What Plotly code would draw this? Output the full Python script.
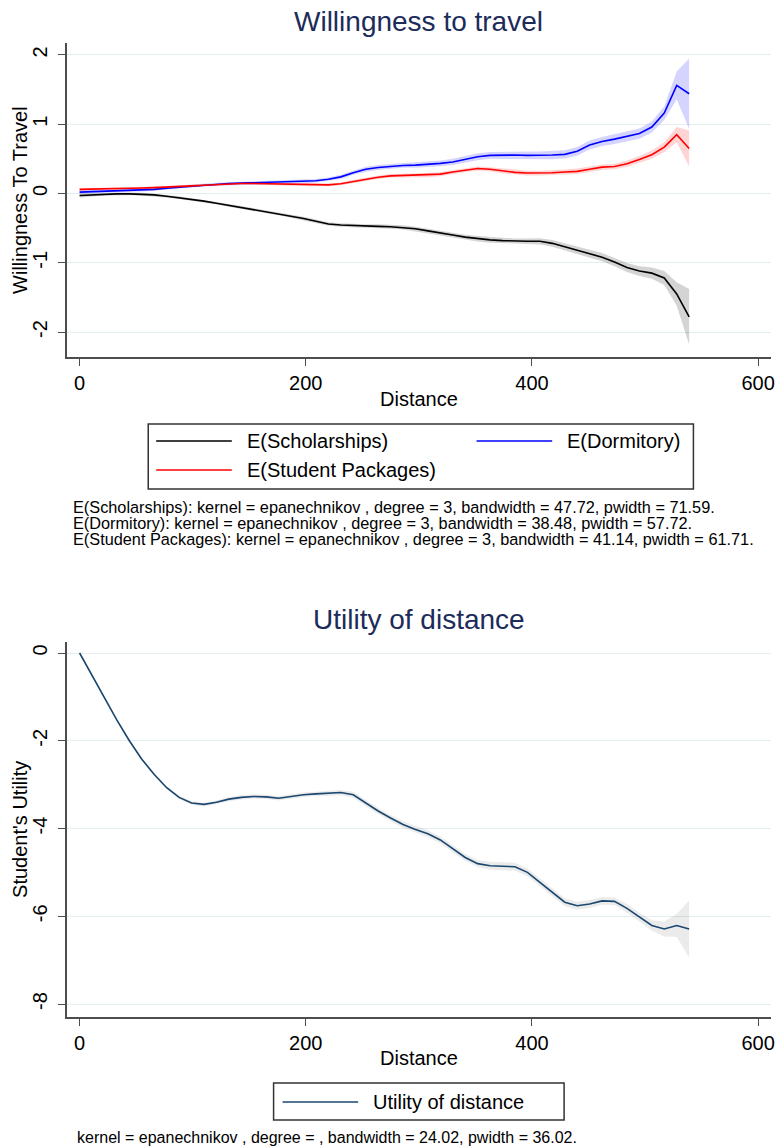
import plotly.graph_objects as go

W, H = 780, 1148
FONT = "Liberation Sans, Arial, Helvetica, sans-serif"

# Local-polynomial smooths evaluated on a common distance grid
distance = [0, 11, 22, 33, 44, 55, 66, 77, 88, 99,
            110, 121, 132, 143, 154, 165, 176, 187, 198, 209,
            220, 231, 242, 253, 264, 275, 286, 297, 308, 319,
            330, 341, 352, 363, 374, 385, 396, 407, 418, 429,
            440, 451, 462, 473, 484, 495, 506, 517, 528, 539]

scholarships = [-0.03, -0.02, -0.01, -0.005, -0.005, -0.01, -0.02, -0.04, -0.06, -0.085,
                -0.11, -0.14, -0.17, -0.20, -0.23, -0.26, -0.29, -0.32, -0.36, -0.40,
                -0.44, -0.455, -0.465, -0.47, -0.475, -0.48, -0.49, -0.51, -0.54, -0.565,
                -0.60, -0.63, -0.655, -0.67, -0.68, -0.69, -0.69, -0.69, -0.72, -0.77,
                -0.82, -0.87, -0.92, -0.99, -1.07, -1.12, -1.15, -1.22, -1.45, -1.78]
scholarships_ci = [0.03, 0.025, 0.02, 0.02, 0.02, 0.02, 0.02, 0.02, 0.02, 0.02,
                   0.02, 0.02, 0.02, 0.02, 0.02, 0.025, 0.025, 0.025, 0.025, 0.025,
                   0.025, 0.025, 0.025, 0.025, 0.03, 0.03, 0.03, 0.03, 0.03, 0.035,
                   0.035, 0.035, 0.04, 0.04, 0.04, 0.04, 0.04, 0.045, 0.05, 0.05,
                   0.055, 0.055, 0.06, 0.06, 0.065, 0.07, 0.08, 0.1, 0.17, 0.40]

dormitory = [0.02, 0.025, 0.03, 0.035, 0.04, 0.05, 0.06, 0.075, 0.09, 0.11,
             0.125, 0.135, 0.145, 0.15, 0.155, 0.16, 0.16, 0.165, 0.17, 0.185,
             0.205, 0.24, 0.30, 0.35, 0.375, 0.395, 0.405, 0.41, 0.42, 0.435,
             0.455, 0.49, 0.53, 0.55, 0.555, 0.555, 0.55, 0.55, 0.555, 0.565,
             0.61, 0.70, 0.75, 0.785, 0.82, 0.865, 0.96, 1.16, 1.56, 1.44]
dormitory_ci = [0.025, 0.02, 0.02, 0.02, 0.02, 0.02, 0.02, 0.02, 0.02, 0.02,
                0.02, 0.02, 0.02, 0.02, 0.02, 0.02, 0.025, 0.025, 0.025, 0.025,
                0.025, 0.03, 0.03, 0.035, 0.035, 0.035, 0.035, 0.04, 0.04, 0.04,
                0.045, 0.045, 0.05, 0.05, 0.05, 0.05, 0.055, 0.055, 0.06, 0.06,
                0.06, 0.065, 0.065, 0.07, 0.07, 0.075, 0.08, 0.1, 0.2, 0.51]

packages = [0.06, 0.062, 0.065, 0.07, 0.075, 0.08, 0.085, 0.09, 0.10, 0.11,
            0.12, 0.13, 0.14, 0.145, 0.145, 0.14, 0.135, 0.13, 0.125, 0.125,
            0.125, 0.14, 0.175, 0.21, 0.235, 0.255, 0.26, 0.26, 0.265, 0.28,
            0.31, 0.34, 0.36, 0.35, 0.325, 0.305, 0.295, 0.295, 0.30, 0.31,
            0.32, 0.35, 0.38, 0.39, 0.43, 0.49, 0.56, 0.67, 0.85, 0.65]
packages_ci = [0.02, 0.018, 0.015, 0.015, 0.015, 0.015, 0.015, 0.015, 0.015, 0.015,
               0.015, 0.015, 0.015, 0.015, 0.015, 0.015, 0.02, 0.02, 0.02, 0.02,
               0.02, 0.02, 0.025, 0.025, 0.025, 0.025, 0.025, 0.025, 0.03, 0.03,
               0.03, 0.03, 0.03, 0.03, 0.035, 0.035, 0.035, 0.035, 0.035, 0.035,
               0.04, 0.04, 0.04, 0.04, 0.045, 0.05, 0.06, 0.07, 0.11, 0.26]

utility = [0.0, -0.52, -1.03, -1.53, -2.00, -2.42, -2.77, -3.07, -3.29, -3.42,
           -3.45, -3.40, -3.33, -3.29, -3.27, -3.28, -3.31, -3.27, -3.23, -3.21,
           -3.20, -3.18, -3.23, -3.42, -3.60, -3.76, -3.91, -4.02, -4.12, -4.26,
           -4.46, -4.66, -4.80, -4.85, -4.86, -4.87, -5.00, -5.22, -5.45, -5.68,
           -5.76, -5.72, -5.65, -5.66, -5.82, -6.02, -6.21, -6.29, -6.21, -6.29]
utility_ci = [0.01, 0.02, 0.03, 0.03, 0.03, 0.03, 0.03, 0.03, 0.04, 0.04,
              0.04, 0.04, 0.05, 0.05, 0.05, 0.05, 0.05, 0.05, 0.05, 0.05,
              0.06, 0.06, 0.07, 0.07, 0.07, 0.07, 0.08, 0.08, 0.08, 0.08,
              0.08, 0.08, 0.08, 0.09, 0.09, 0.09, 0.09, 0.09, 0.09, 0.09,
              0.09, 0.09, 0.09, 0.09, 0.1, 0.1, 0.12, 0.17, 0.26, 0.65]

x_ticks = [0, 200, 400, 600]
x_tick_labels = ["0", "200", "400", "600"]
top_y_ticks = [-2, -1, 0, 1, 2]
top_y_labels = ["-2", "-1", "0", "1", "2"]
bottom_y_ticks = [-8, -6, -4, -2, 0]
bottom_y_labels = ["-8", "-6", "-4", "-2", "0"]

top_series = [
    ("E(Scholarships)", scholarships, scholarships_ci, "#000000", "rgba(0,0,0,0.17)"),
    ("E(Dormitory)", dormitory, dormitory_ci, "#0000ff", "rgba(0,0,255,0.17)"),
    ("E(Student Packages)", packages, packages_ci, "#ff0000", "rgba(255,0,0,0.17)"),
]
util_color = "#1a476f"
util_band = "rgba(0,0,0,0.08)"

top_notes = [
    "E(Scholarships): kernel = epanechnikov , degree = 3, bandwidth = 47.72, pwidth = 71.59.",
    "E(Dormitory): kernel = epanechnikov , degree = 3, bandwidth = 38.48, pwidth = 57.72.",
    "E(Student Packages): kernel = epanechnikov , degree = 3, bandwidth = 41.14, pwidth = 61.71.",
]
bottom_note = "kernel = epanechnikov , degree = , bandwidth = 24.02, pwidth = 36.02."


def px(x):
    return x / W


def py(y):
    return 1 - y / H


def band(xs, ys, half):
    lo = [v - h for v, h in zip(ys, half)]
    hi = [v + h for v, h in zip(ys, half)]
    return xs + xs[::-1], hi + lo[::-1]


fig = go.Figure()

# confidence bands first, then the fitted lines on top
for name, ys, half, col, fillcol in top_series:
    bx, by = band(distance, ys, half)
    fig.add_trace(go.Scatter(x=bx, y=by, fill="toself", fillcolor=fillcol,
                             line=dict(width=0), mode="lines", hoverinfo="skip",
                             xaxis="x", yaxis="y", showlegend=False))
for name, ys, half, col, fillcol in top_series:
    fig.add_trace(go.Scatter(x=distance, y=ys, mode="lines", name=name,
                             line=dict(color=col, width=1.6),
                             xaxis="x", yaxis="y", showlegend=False))

bx, by = band(distance, utility, utility_ci)
fig.add_trace(go.Scatter(x=bx, y=by, fill="toself", fillcolor=util_band,
                         line=dict(width=0), mode="lines", hoverinfo="skip",
                         xaxis="x2", yaxis="y2", showlegend=False))
fig.add_trace(go.Scatter(x=distance, y=utility, mode="lines", name="Utility of distance",
                         line=dict(color=util_color, width=1.6),
                         xaxis="x2", yaxis="y2", showlegend=False))

axis_col = "#4d4d4d"
grid_col = "#e4edf0"
x_dom = [px(67), px(775)]
x_range = [-11.44, 611.4]

common_x = dict(domain=x_dom, range=x_range, tickvals=x_ticks, ticktext=x_tick_labels,
                ticks="outside", ticklen=7, tickwidth=1.2, tickcolor=axis_col,
                showline=True, linecolor=axis_col, linewidth=1.5, showgrid=False,
                zeroline=False, tickfont=dict(family=FONT, size=20, color="#000000"))
common_y = dict(ticks="outside", ticklen=7, tickwidth=1.2, tickcolor=axis_col,
                showline=True, linecolor=axis_col, linewidth=1.5, showgrid=True,
                gridcolor=grid_col, gridwidth=1.2, zeroline=False, tickangle=-90,
                ticklabelstandoff=3,
                tickfont=dict(family=FONT, size=20, color="#000000"))

fig.update_layout(
    width=W, height=H,
    margin=dict(l=0, r=0, t=0, b=0),
    paper_bgcolor="white", plot_bgcolor="white",
    showlegend=False,
    xaxis=dict(anchor="y", **common_x),
    yaxis=dict(anchor="x", domain=[py(357), py(43)], range=[-2.361, 2.173],
               tickvals=top_y_ticks, ticktext=top_y_labels, **common_y),
    xaxis2=dict(anchor="y2", **common_x),
    yaxis2=dict(anchor="x2", domain=[py(1017), py(642)], range=[-8.296, 0.251],
                tickvals=bottom_y_ticks, ticktext=bottom_y_labels, **common_y),
)

ann = []
shapes = []


def text(x, y, s, size, color="#000000", xanchor="center", angle=0):
    ann.append(dict(x=px(x), y=py(y), xref="paper", yref="paper", text=s,
                    showarrow=False, xanchor=xanchor, yanchor="middle",
                    textangle=angle,
                    font=dict(family=FONT, size=size, color=color)))


title_col = "#1c2b5a"
# titles
text(421, 21, "Willingness to travel", 28, title_col)
text(421, 619, "Utility of distance", 28, title_col)
# axis titles
text(421, 399, "Distance", 20)
text(421, 1058, "Distance", 20)
text(20, 200, "Willingness To Travel", 20, angle=-90)
text(20, 829, "Student's Utility", 20, angle=-90)

# legend of the upper panel
shapes.append(dict(type="rect", xref="paper", yref="paper",
                   x0=px(149), x1=px(697), y0=py(489), y1=py(424),
                   line=dict(color="#333333", width=1.5), fillcolor="white"))
legend_slots = [(157, 441), (479, 441), (157, 470)]
for (lx, ly), (name, ys, half, col, fillcol) in zip(legend_slots, top_series):
    shapes.append(dict(type="line", xref="paper", yref="paper",
                       x0=px(lx), x1=px(lx + 76), y0=py(ly), y1=py(ly),
                       line=dict(color=col, width=1.6)))
    text(lx + 89, ly, name, 20, xanchor="left")

for i, note in enumerate(top_notes):
    text(71, 507 + 16 * i, note, 16.3, xanchor="left")

# legend of the lower panel
shapes.append(dict(type="rect", xref="paper", yref="paper",
                   x0=px(275), x1=px(567), y0=py(1120), y1=py(1083),
                   line=dict(color="#333333", width=1.5), fillcolor="white"))
shapes.append(dict(type="line", xref="paper", yref="paper",
                   x0=px(284), x1=px(360), y0=py(1102), y1=py(1102),
                   line=dict(color=util_color, width=1.6)))
text(373, 1102, "Utility of distance", 20, xanchor="left")
text(75, 1137, bottom_note, 16, xanchor="left")

fig.update_layout(annotations=ann, shapes=shapes)

fig.write_html("out.html")
